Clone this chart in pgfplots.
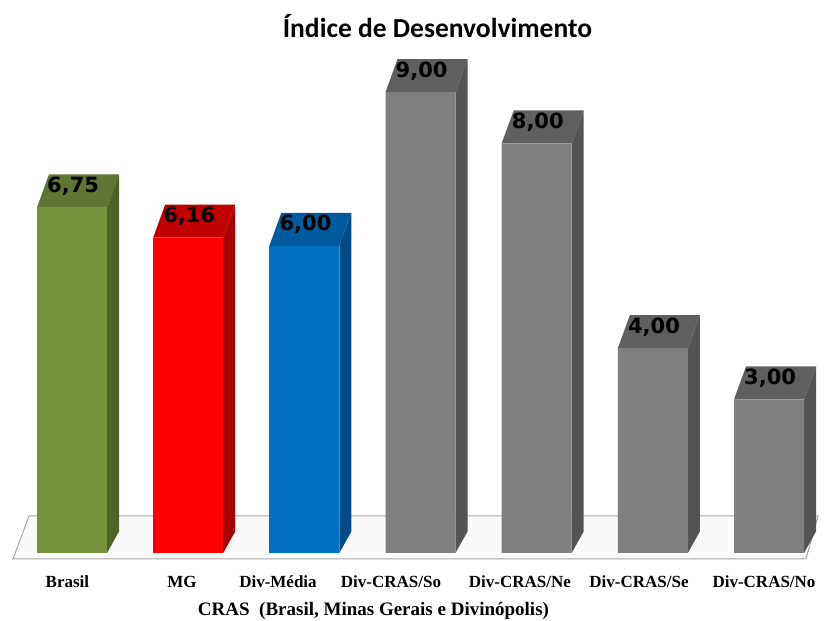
\documentclass[border=0pt]{standalone}
\usepackage{pgfplots}
\usepackage{pgfplotstable}
\pgfplotsset{compat=1.18}
\usepackage{fontspec}
\setmainfont{Liberation Serif}
\newfontfamily\carlito{Carlito}
\newfontfamily\dejavu{DejaVu Sans}
\definecolor{greenfront}{HTML}{77933C}
\definecolor{greentop}{HTML}{5F7532}
\definecolor{greenside}{HTML}{4F6228}
\definecolor{redfront}{HTML}{FF0000}
\definecolor{redtop}{HTML}{C00000}
\definecolor{redside}{HTML}{A80000}
\definecolor{bluefront}{HTML}{0070C0}
\definecolor{bluetop}{HTML}{005A9E}
\definecolor{blueside}{HTML}{004C86}
\definecolor{grayfront}{HTML}{808080}
\definecolor{graytop}{HTML}{5F5F5F}
\definecolor{grayside}{HTML}{545454}
\newcommand\topcol[1]{\ifcase#1 greentop\or redtop\or bluetop\else graytop\fi}
\newcommand\sidecol[1]{\ifcase#1 greenside\or redside\or blueside\else grayside\fi}
\pgfplotstableread{
idx val
0 6.75
1 6.16
2 6.00
3 9.00
4 8.00
5 4.00
6 3.00
}\datatable
\begin{document}
\begin{tikzpicture}
\path[use as bounding box] (0,-68pt) rectangle (825pt,553pt);
\begin{axis}[
  at={(0,0)}, anchor=south west,
  scale only axis, width=825pt, height=553pt,
  xmin=-0.6198, xmax=6.4819, ymin=0, ymax=10.8008,
  clip=false,
  axis line style={draw=none},
  tick style={draw=none},
  ytick=\empty,
  xtick={-0.039,0.947,1.773,2.746,3.856,4.881,5.957},
  xticklabels={Brasil,MG,Div-Média,Div-CRAS/So,Div-CRAS/Ne,Div-CRAS/Se,Div-CRAS/No},
  xticklabel style={anchor=base, yshift=-30pt, font=\fontsize{17}{20}\selectfont\bfseries},
  xlabel={CRAS\ \ (Brasil, Minas Gerais e Divinópolis)},
  xlabel style={at={(axis description cs:0.4527,-0.1125)}, anchor=base, font=\fontsize{19}{22}\selectfont\bfseries},
  ybar, bar width=70pt, bar shift=0pt,
  nodes near coords,
  /pgf/number format/.cd, fixed, fixed zerofill, precision=2, use comma, assume math mode=true,
  /pgfplots/.cd,
  every node near coord/.append style={anchor=base west, xshift=-25pt, yshift=15pt, inner sep=0pt, text=black, font=\dejavu\bfseries\fontsize{21}{24}\selectfont},
]
% floor
\draw[draw=black!35, line width=1pt, fill=black!2] (axis cs:-0.508,-0.117) -- (axis cs:-0.370,0.723) -- (axis cs:6.422,0.723) -- (axis cs:6.318,-0.117) -- cycle;
% 3D faces
\pgfplotsforeachungrouped \i in {0,...,6}{%
  \pgfplotstablegetelem{\i}{val}\of\datatable
  \let\v\pgfplotsretval
  \pgfmathsetmacro\xl{\i-0.3013}%
  \pgfmathsetmacro\xr{\i+0.3013}%
  \pgfmathsetmacro\xlb{\i-0.3013+0.1033}%
  \pgfmathsetmacro\xrb{\i+0.3013+0.1033}%
  \pgfmathsetmacro\vt{\v+0.645}%
  \edef\temp{%
    \noexpand\fill[\topcol{\i}] (axis cs:\xl,\v) -- (axis cs:\xlb,\vt) -- (axis cs:\xrb,\vt) -- (axis cs:\xr,\v) -- cycle;
    \noexpand\fill[\sidecol{\i}] (axis cs:\xr,\v) -- (axis cs:\xrb,\vt) -- (axis cs:\xrb,0.42) -- (axis cs:\xr,0) -- cycle;
  }%
  \temp
}
\addplot[fill=greenfront, draw=none, restrict x to domain=0:0] table[x=idx,y=val]{\datatable};
\addplot[fill=redfront, draw=none, restrict x to domain=1:1] table[x=idx,y=val]{\datatable};
\addplot[fill=bluefront, draw=none, restrict x to domain=2:2] table[x=idx,y=val]{\datatable};
\addplot[fill=grayfront, draw=none, restrict x to domain=3:6] table[x=idx,y=val]{\datatable};
\node[anchor=base] at (axis cs:3.146,10.078) {\carlito\bfseries\fontsize{27.5}{32}\selectfont Índice de Desenvolvimento};
\end{axis}
\end{tikzpicture}
\end{document}
